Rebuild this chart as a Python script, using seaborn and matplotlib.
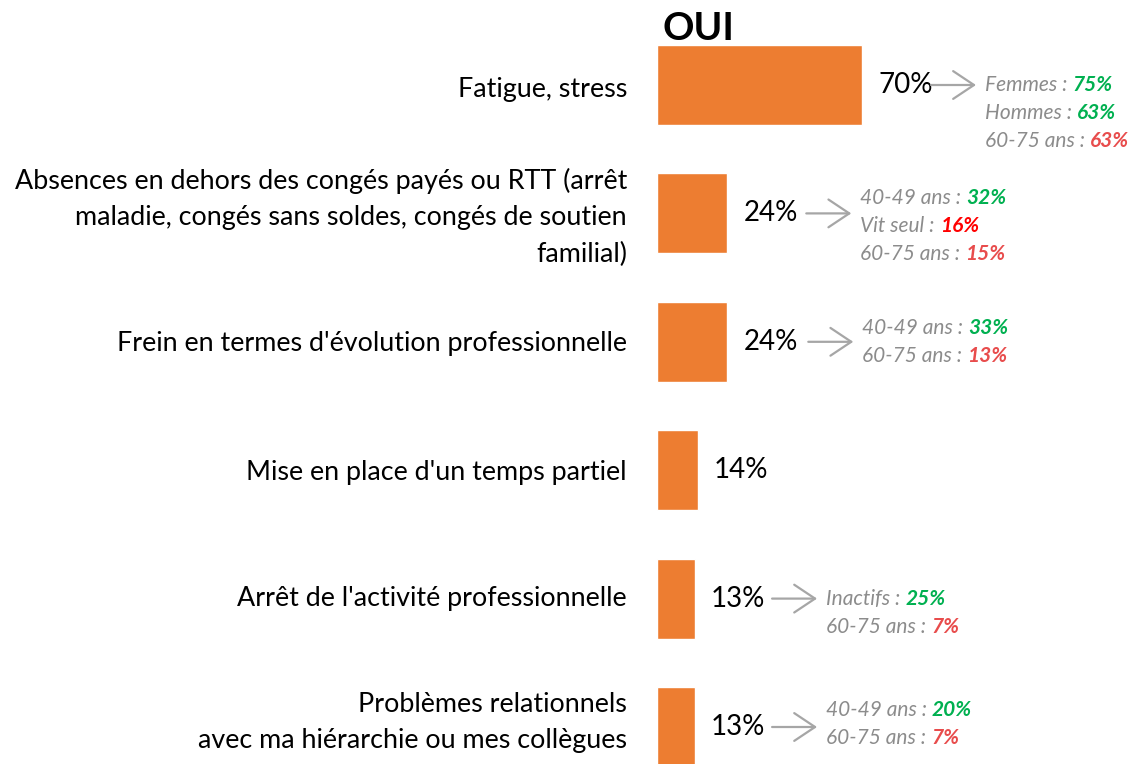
import matplotlib
matplotlib.use("Agg")
import matplotlib.pyplot as plt
from matplotlib.transforms import offset_copy
import seaborn as sns
import pandas as pd

# ---------------- data ----------------
categories = [
    "Fatigue, stress",
    "Absences en dehors des congés payés ou RTT (arrêt\nmaladie, congés sans soldes, congés de soutien\nfamilial)",
    "Frein en termes d'évolution professionnelle",
    "Mise en place d'un temps partiel",
    "Arrêt de l'activité professionnelle",
    "Problèmes relationnels\navec ma hiérarchie ou mes collègues",
]
values = [70, 24, 24, 14, 13, 13]

sub_labels = [
    ["Femmes", "Hommes", "60-75 ans"],
    ["40-49 ans", "Vit seul", "60-75 ans"],
    ["40-49 ans", "60-75 ans"],
    [],
    ["Inactifs", "60-75 ans"],
    ["40-49 ans", "60-75 ans"],
]
sub_values = [
    [75, 63, 63],
    [32, 16, 15],
    [33, 13],
    [],
    [25, 7],
    [20, 7],
]
GREEN, RED, RED2 = "#00B050", "#E84C4C", "#FF0000"
sub_colors = [
    [GREEN, GREEN, RED],
    [GREEN, RED2, RED],
    [GREEN, RED],
    [],
    [GREEN, RED],
    [GREEN, RED],
]
title = "OUI"

# ---------------- layout ----------------
first_line_shift = [0.0, -0.55, -0.5, 0.0, 0.0, -0.6]   # in line units
text_offset_px = [123, 133, 135, 131, 131, 131]
label_shift_px = [-4, -4, -2, -2, 0, 5]                   # upwards
LINE_PX = 28

sns.set_theme(style="white")
plt.rcParams["font.family"] = ["Lato", "DejaVu Sans"]

W, H, DPI = 1140, 764, 100
fig = plt.figure(figsize=(W / DPI, H / DPI), dpi=DPI)
x0_px = 657
px_per_pct = 205 / 70
ax = fig.add_axes([x0_px / W, 0, (W - x0_px) / W, 1])

df = pd.DataFrame({"cat": categories, "val": values})
sns.barplot(data=df, x="val", y="cat", orient="h", color="#ED7D31",
            saturation=1, width=0.623, ax=ax)

pitch = 128.4
c0 = 85
ax.set_xlim(0, (W - x0_px) / px_per_pct)
ax.set_ylim((H - c0) / pitch, -c0 / pitch)
ax.set_xlabel("")
ax.set_ylabel("")
ax.set_xticks([])
ax.set_yticks(range(len(categories)))
ax.set_yticklabels([])
for s in ax.spines.values():
    s.set_visible(False)
ax.tick_params(axis="y", length=0)

# category labels
for i, cat in enumerate(categories):
    ax.annotate(cat, xy=(0, i), xytext=(-30, label_shift_px[i]),
                textcoords="offset pixels", ha="right", va="center",
                multialignment="right", linespacing=1.55, fontsize=19.4,
                color="black", annotation_clip=False)

# title
fig.text(663 / W, 1 - 28 / H, title, fontsize=28, fontweight="bold", ha="left",
         va="center", color="black")

# value labels, arrows and breakdowns
for i, v in enumerate(values):
    ax.annotate(f"{v}%", xy=(v, i), xytext=(16, 0), textcoords="offset pixels",
                ha="left", va="center", fontsize=20, color="black")
    if not sub_labels[i]:
        continue
    tx = text_offset_px[i]
    start = offset_copy(ax.transData, fig=fig, x=tx - 54, y=0, units="dots")
    end = offset_copy(ax.transData, fig=fig, x=tx - 9, y=0, units="dots")
    ax.annotate("", xy=(v, i), xycoords=end, xytext=(v, i), textcoords=start,
                arrowprops=dict(arrowstyle="->,head_length=0.6,head_width=0.4",
                                color="#A6A6A6", lw=1.6, mutation_scale=25,
                                shrinkA=0, shrinkB=0))
    for k, (lab, sv, col) in enumerate(zip(sub_labels[i], sub_values[i], sub_colors[i])):
        dy = -(first_line_shift[i] + k) * LINE_PX
        t = ax.annotate(f"{lab} : ", xy=(v, i), xytext=(tx, dy),
                        textcoords="offset pixels", ha="left", va="center",
                        fontsize=15, style="italic", color="#8C8C8C")
        ax.annotate(f"{sv}%", xy=(1, 0), xycoords=t, ha="left", va="bottom",
                    fontsize=15, style="italic", fontweight="bold", color=col)

fig.savefig("out.png", dpi=DPI)
